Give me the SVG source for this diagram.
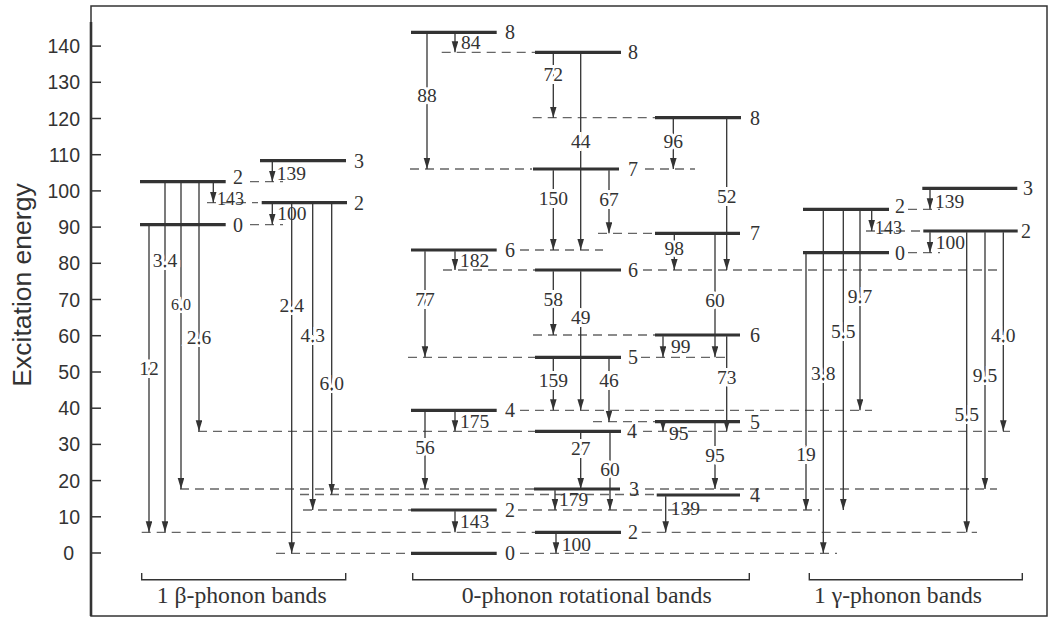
<svg xmlns="http://www.w3.org/2000/svg" width="1050" height="618" viewBox="0 0 1050 618">
<defs>
<marker id="ah" markerUnits="userSpaceOnUse" markerWidth="12" markerHeight="7" refX="11" refY="3.3" orient="auto">
<path d="M0,0 L11,3.3 L0,6.6 z" fill="#333"/>
</marker>
<style>
.lvl{stroke:#333;stroke-width:3.2}
.tr{stroke:#333;stroke-width:1.3;fill:none;marker-end:url(#ah)}
.dash{stroke:#666;stroke-width:1.3;stroke-dasharray:9 6;fill:none}
.ax{stroke:#333;fill:none}
.tick{font-family:"Liberation Sans",Arial,sans-serif;font-size:19.5px;fill:#333;text-anchor:end}
.num{font-family:"Liberation Serif","Times New Roman",serif;font-size:19.5px;fill:#333}
.on{text-anchor:middle;stroke:#fff;stroke-width:6;paint-order:stroke}
.lab{font-family:"Liberation Serif","Times New Roman",serif;font-size:20px;fill:#333}
.band{font-family:"Liberation Serif","Times New Roman",serif;font-size:23px;fill:#333}
</style>
</defs>
<rect x="0" y="0" width="1050" height="618" fill="#fff"/>
<!-- frame and axis -->
<g id="axis">
<rect class="ax" x="91" y="6" width="956" height="610" stroke-width="1.5"/>
<line class="ax" x1="91" y1="22" x2="91" y2="616" stroke-width="2.6"/>
<g class="ax" stroke-width="1.5">
<line x1="91" y1="553" x2="101" y2="553"/><line x1="91" y1="516.8" x2="101" y2="516.8"/>
<line x1="91" y1="480.6" x2="101" y2="480.6"/><line x1="91" y1="444.4" x2="101" y2="444.4"/>
<line x1="91" y1="408.2" x2="101" y2="408.2"/><line x1="91" y1="372" x2="101" y2="372"/>
<line x1="91" y1="335.7" x2="101" y2="335.7"/><line x1="91" y1="299.5" x2="101" y2="299.5"/>
<line x1="91" y1="263.3" x2="101" y2="263.3"/><line x1="91" y1="227.1" x2="101" y2="227.1"/>
<line x1="91" y1="190.9" x2="101" y2="190.9"/><line x1="91" y1="154.7" x2="101" y2="154.7"/>
<line x1="91" y1="118.5" x2="101" y2="118.5"/><line x1="91" y1="82.3" x2="101" y2="82.3"/>
<line x1="91" y1="46.1" x2="101" y2="46.1"/>
</g>
<text class="tick" x="74" y="560">0</text>
<text class="tick" x="80" y="523.8">10</text>
<text class="tick" x="80" y="487.6">20</text>
<text class="tick" x="80" y="451.4">30</text>
<text class="tick" x="80" y="415.2">40</text>
<text class="tick" x="80" y="379">50</text>
<text class="tick" x="80" y="342.7">60</text>
<text class="tick" x="80" y="306.5">70</text>
<text class="tick" x="80" y="270.3">80</text>
<text class="tick" x="80" y="234.1">90</text>
<text class="tick" x="80" y="197.9">100</text>
<text class="tick" x="80" y="161.7">110</text>
<text class="tick" x="80" y="125.5">120</text>
<text class="tick" x="80" y="89.3">130</text>
<text class="tick" x="80" y="53.1">140</text>
<text transform="translate(31,285) rotate(-90)" font-family="Liberation Sans, Arial, sans-serif" font-size="26.5" fill="#333" text-anchor="middle">Excitation energy</text>
</g>
<!-- dashed guide lines -->
<g id="guides" class="dash">
<line x1="207" y1="202.7" x2="258" y2="202.7"/>
<line x1="250" y1="181.7" x2="283" y2="181.7"/>
<line x1="250" y1="224.7" x2="283" y2="224.7"/>
<line x1="141.7" y1="532.3" x2="535" y2="532.3"/><line x1="641.7" y1="532.3" x2="977" y2="532.3"/>
<line x1="180" y1="489" x2="534" y2="489"/><line x1="645" y1="489" x2="997" y2="489"/>
<line x1="198" y1="431.3" x2="535" y2="431.3"/><line x1="643" y1="431.3" x2="1010" y2="431.3"/>
<line x1="276" y1="553.3" x2="411" y2="553.3"/><line x1="520" y1="553.3" x2="837" y2="553.3"/>
<line x1="303" y1="510" x2="411" y2="510"/><line x1="518" y1="510" x2="820" y2="510"/>
<line x1="300" y1="494.5" x2="655" y2="494.5"/>
<line x1="441.7" y1="52.3" x2="535" y2="52.3"/>
<line x1="410" y1="169" x2="532" y2="169"/><line x1="645" y1="169" x2="695" y2="169"/>
<line x1="532.7" y1="117.7" x2="655" y2="117.7"/>
<line x1="520" y1="250" x2="603" y2="250"/>
<line x1="443" y1="270" x2="535" y2="270"/><line x1="643" y1="270" x2="1003" y2="270"/>
<line x1="598" y1="233.3" x2="655" y2="233.3"/>
<line x1="533" y1="335" x2="655" y2="335"/>
<line x1="408" y1="357.3" x2="535" y2="357.3"/><line x1="641" y1="357.3" x2="728" y2="357.3"/>
<line x1="520" y1="410.3" x2="872" y2="410.3"/>
<line x1="593" y1="421.7" x2="655" y2="421.7"/>
<line x1="908" y1="209.3" x2="940" y2="209.3"/>
<line x1="866" y1="231" x2="922" y2="231"/>
<line x1="908" y1="252.7" x2="940" y2="252.7"/>
</g>
<!-- levels -->
<g id="beta-2"><line class="lvl" x1="140" y1="181.7" x2="225.7" y2="181.7"/><text class="lab" x="233" y="184">2</text></g>
<g id="beta-0"><line class="lvl" x1="140" y1="224.7" x2="225.7" y2="224.7"/><text class="lab" x="233" y="231.7">0</text></g>
<g id="beta-3"><line class="lvl" x1="260" y1="160.7" x2="346" y2="160.7"/><text class="lab" x="354" y="167.7">3</text></g>
<g id="beta-2b"><line class="lvl" x1="261.7" y1="202.7" x2="347" y2="202.7"/><text class="lab" x="354" y="209.7">2</text></g>
<g id="A8"><line class="lvl" x1="411" y1="32.3" x2="496.7" y2="32.3"/><text class="lab" x="505" y="39.3">8</text></g>
<g id="A6"><line class="lvl" x1="411" y1="250" x2="496.7" y2="250"/><text class="lab" x="505" y="257">6</text></g>
<g id="A4"><line class="lvl" x1="411" y1="410.3" x2="496.7" y2="410.3"/><text class="lab" x="505" y="417.3">4</text></g>
<g id="A2"><line class="lvl" x1="411" y1="510" x2="496.7" y2="510"/><text class="lab" x="505" y="517">2</text></g>
<g id="A0"><line class="lvl" x1="411" y1="553.3" x2="496.7" y2="553.3"/><text class="lab" x="505" y="560.3">0</text></g>
<g id="B8"><line class="lvl" x1="535" y1="52.3" x2="621" y2="52.3"/><text class="lab" x="628" y="59.3">8</text></g>
<g id="B7"><line class="lvl" x1="533" y1="169" x2="619" y2="169"/><text class="lab" x="628" y="176">7</text></g>
<g id="B6"><line class="lvl" x1="535" y1="270" x2="621" y2="270"/><text class="lab" x="628" y="277">6</text></g>
<g id="B5"><line class="lvl" x1="535" y1="357.3" x2="621" y2="357.3"/><text class="lab" x="628" y="364.3">5</text></g>
<g id="B4"><line class="lvl" x1="535" y1="431.3" x2="621" y2="431.3"/><text class="lab" x="627" y="438.3">4</text></g>
<g id="B3"><line class="lvl" x1="534" y1="489" x2="620" y2="489"/><text class="lab" x="629" y="496">3</text></g>
<g id="B2"><line class="lvl" x1="535" y1="532.3" x2="621" y2="532.3"/><text class="lab" x="628" y="539.3">2</text></g>
<g id="C8"><line class="lvl" x1="655" y1="117.7" x2="741" y2="117.7"/><text class="lab" x="750" y="124.7">8</text></g>
<g id="C7"><line class="lvl" x1="655" y1="233.3" x2="740" y2="233.3"/><text class="lab" x="750" y="240.3">7</text></g>
<g id="C6"><line class="lvl" x1="655" y1="335" x2="740" y2="335"/><text class="lab" x="750" y="342">6</text></g>
<g id="C5"><line class="lvl" x1="655" y1="421.7" x2="740" y2="421.7"/><text class="lab" x="750" y="428.7">5</text></g>
<g id="C4"><line class="lvl" x1="656.7" y1="495" x2="740" y2="495"/><text class="lab" x="750" y="502">4</text></g>
<g id="gamma-2"><line class="lvl" x1="803" y1="209.3" x2="889" y2="209.3"/><text class="lab" x="895" y="212.5">2</text></g>
<g id="gamma-0"><line class="lvl" x1="803" y1="252.7" x2="889" y2="252.7"/><text class="lab" x="895" y="259.7">0</text></g>
<g id="gamma-3"><line class="lvl" x1="922.3" y1="188.3" x2="1017.3" y2="188.3"/><text class="lab" x="1023" y="195.3">3</text></g>
<g id="gamma-2b"><line class="lvl" x1="923.3" y1="231" x2="1017.7" y2="231"/><text class="lab" x="1021" y="238">2</text></g>
<!-- transitions -->
<g id="connectors">
<line class="tr" x1="149" y1="226" x2="149" y2="532.3"/>
<line class="tr" x1="165" y1="183" x2="165" y2="532.3"/>
<line class="tr" x1="181" y1="183" x2="181" y2="489"/>
<line class="tr" x1="199" y1="183" x2="199" y2="431.3"/>
<line class="tr" x1="213.3" y1="183" x2="213.3" y2="202.7"/>
<line class="tr" x1="272.3" y1="162" x2="272.3" y2="181.7"/>
<line class="tr" x1="272.3" y1="204" x2="272.3" y2="224.7"/>
<line class="tr" x1="291.7" y1="204" x2="291.7" y2="553.3"/>
<line class="tr" x1="312.7" y1="204" x2="312.7" y2="510"/>
<line class="tr" x1="331.7" y1="204" x2="331.7" y2="494.5"/>
<line class="tr" x1="455" y1="33.6" x2="455" y2="52.3"/>
<line class="tr" x1="427" y1="33.6" x2="427" y2="169"/>
<line class="tr" x1="553.3" y1="53.6" x2="553.3" y2="117.7"/>
<line class="tr" x1="580.7" y1="53.6" x2="580.7" y2="250"/>
<line class="tr" x1="673.3" y1="119" x2="673.3" y2="169"/>
<line class="tr" x1="726.7" y1="119" x2="726.7" y2="270"/>
<line class="tr" x1="553.3" y1="170.3" x2="553.3" y2="250"/>
<line class="tr" x1="609" y1="170.3" x2="609" y2="233.3"/>
<line class="tr" x1="455" y1="251.3" x2="455" y2="270"/>
<line class="tr" x1="425" y1="251.3" x2="425" y2="357.3"/>
<line class="tr" x1="674.3" y1="234.6" x2="674.3" y2="270"/>
<line class="tr" x1="715" y1="234.6" x2="715" y2="357.3"/>
<line class="tr" x1="553.3" y1="271.3" x2="553.3" y2="335"/>
<line class="tr" x1="580.7" y1="271.3" x2="580.7" y2="410.3"/>
<line class="tr" x1="663" y1="336.3" x2="663" y2="357.3"/>
<line class="tr" x1="726.7" y1="336.3" x2="726.7" y2="431.3"/>
<line class="tr" x1="553.3" y1="358.6" x2="553.3" y2="410.3"/>
<line class="tr" x1="609" y1="358.6" x2="609" y2="421.7"/>
<line class="tr" x1="455" y1="411.6" x2="455" y2="431.3"/>
<line class="tr" x1="425" y1="411.6" x2="425" y2="489"/>
<line class="tr" x1="663" y1="423" x2="663" y2="431.3"/>
<line class="tr" x1="715" y1="423" x2="715" y2="489"/>
<line class="tr" x1="580.7" y1="432.6" x2="580.7" y2="489"/>
<line class="tr" x1="610" y1="432.6" x2="610" y2="510"/>
<line class="tr" x1="555" y1="490.3" x2="555" y2="510"/>
<line class="tr" x1="665.7" y1="496.3" x2="665.7" y2="532.3"/>
<line class="tr" x1="455" y1="511.3" x2="455" y2="532.3"/>
<line class="tr" x1="556" y1="533.6" x2="556" y2="553.3"/>
<line class="tr" x1="806" y1="254" x2="806" y2="510"/>
<line class="tr" x1="823.3" y1="210.6" x2="823.3" y2="553.3"/>
<line class="tr" x1="843.3" y1="210.6" x2="843.3" y2="510"/>
<line class="tr" x1="860" y1="210.6" x2="860" y2="410.3"/>
<line class="tr" x1="871.7" y1="210.6" x2="871.7" y2="231"/>
<line class="tr" x1="930" y1="189.6" x2="930" y2="209.3"/>
<line class="tr" x1="930" y1="232.3" x2="930" y2="252.7"/>
<line class="tr" x1="966.7" y1="232.3" x2="966.7" y2="532.3"/>
<line class="tr" x1="985" y1="232.3" x2="985" y2="489"/>
<line class="tr" x1="1003.3" y1="232.3" x2="1003.3" y2="431.3"/>
</g>
<!-- transition labels -->
<g id="labels" class="num">
<text class="on" x="149" y="374.5">12</text>
<text class="on" x="165" y="266.5">3.4</text>
<text class="on" x="181" y="309.5" font-size="16">6.0</text>
<text class="on" x="199" y="343.8">2.6</text>
<text class="on" x="291.7" y="311.5">2.4</text>
<text class="on" x="312.7" y="341.5">4.3</text>
<text class="on" x="331.7" y="389.5">6.0</text>
<text x="217" y="204.5" font-size="18">143</text>
<text x="276.7" y="180.2">139</text>
<text x="277.3" y="220.3">100</text>
<text class="on" x="427" y="102.2">88</text>
<text class="on" x="553.3" y="80.5">72</text>
<text class="on" x="580.7" y="148.2">44</text>
<text class="on" x="673.3" y="147.5">96</text>
<text class="on" x="726.7" y="202.5">52</text>
<text class="on" x="553.3" y="204.8">150</text>
<text class="on" x="609" y="205.5">67</text>
<text class="on" x="674.3" y="254.8">98</text>
<text class="on" x="425" y="305.5">77</text>
<text class="on" x="553.3" y="305.5">58</text>
<text class="on" x="580.7" y="323.8">49</text>
<text class="on" x="715" y="306.5">60</text>
<text class="on" x="726.7" y="383.5">73</text>
<text class="on" x="553.3" y="386.5">159</text>
<text class="on" x="609" y="386.5">46</text>
<text class="on" x="425" y="453.8">56</text>
<text class="on" x="580.7" y="454.5">27</text>
<text class="on" x="610" y="475.5">60</text>
<text class="on" x="715" y="461.5">95</text>
<text x="461" y="48.8">84</text>
<text x="460" y="266.5">182</text>
<text x="460" y="428.2">175</text>
<text x="460" y="527.8">143</text>
<text x="559" y="506.2">179</text>
<text x="561.7" y="551.2">100</text>
<text x="670.7" y="514.8">139</text>
<text x="671" y="352.5">99</text>
<text x="669" y="439.5">95</text>
<text class="on" x="806" y="461.2">19</text>
<text class="on" x="823.3" y="379.8">3.8</text>
<text class="on" x="843.3" y="338.2">5.5</text>
<text class="on" x="860" y="303.2">9.7</text>
<text class="on" x="966.7" y="420.5">5.5</text>
<text class="on" x="985" y="381.5">9.5</text>
<text class="on" x="1003.3" y="341.5">4.0</text>
<text x="935" y="208.2">139</text>
<text x="875" y="233.5" font-size="18">143</text>
<text x="935.7" y="248.7">100</text>
</g>
<!-- band brackets -->
<g id="brackets" class="ax" stroke-width="1.4">
<path d="M141.7,573 V579.7 H345.7 V573"/>
<path d="M412.7,573 V579.7 H749.3 V573"/>
<path d="M809.3,573 V579.7 H1022.3 V573"/>
</g>
<text class="band" x="156.7" y="603" textLength="170" lengthAdjust="spacingAndGlyphs">1 β-phonon bands</text>
<text class="band" x="461.7" y="603" textLength="250" lengthAdjust="spacingAndGlyphs">0-phonon rotational bands</text>
<text class="band" x="814" y="603" textLength="168" lengthAdjust="spacingAndGlyphs">1 γ-phonon bands</text>
</svg>
